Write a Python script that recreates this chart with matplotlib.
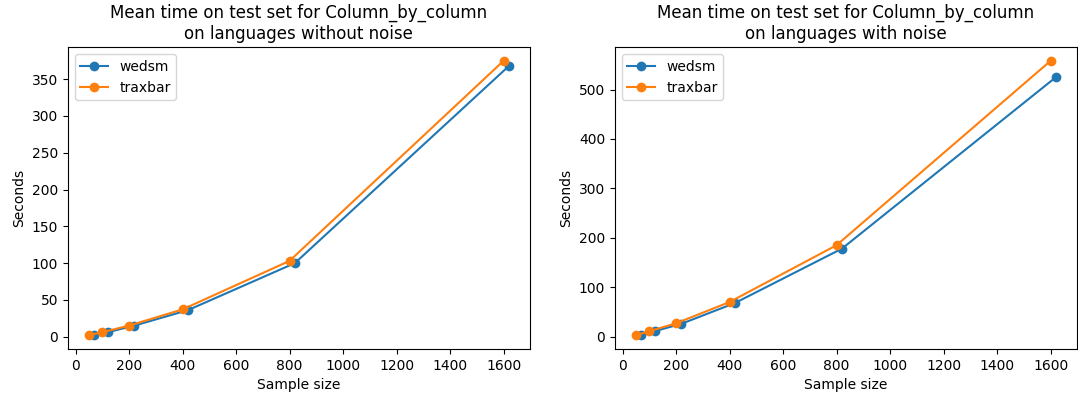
import matplotlib
matplotlib.use("Agg")
import matplotlib.pyplot as plt

# sample sizes
sizes_traxbar = [50, 100, 200, 400, 800, 1600]
sizes_wedsm = [70, 120, 220, 420, 820, 1620]

# mean times without noise (seconds)
wedsm_clean = [2, 6, 15, 36, 100, 368]
traxbar_clean = [2, 6, 15, 37, 103, 375]

# mean times with noise (seconds)
wedsm_noise = [3, 11, 26, 68, 178, 525]
traxbar_noise = [3, 11, 27, 70, 185, 558]

titles = [
    "Mean time on test set for Column_by_column\non languages without noise",
    "Mean time on test set for Column_by_column\non languages with noise",
]


def main():
    fig, axes = plt.subplots(1, 2, figsize=(10.78, 3.96), dpi=100)
    data = [(wedsm_clean, traxbar_clean), (wedsm_noise, traxbar_noise)]

    for ax, (w, t), title in zip(axes, data, titles):
        ax.plot(sizes_wedsm, w, marker="o", label="wedsm")
        ax.plot(sizes_traxbar, t, marker="o", label="traxbar")
        ax.set_title(title)
        ax.set_xlabel("Sample size")
        ax.set_ylabel("Seconds")
        ax.legend(loc="upper left")

    plt.subplots_adjust(left=0.063, right=0.999, top=0.881, bottom=0.119, wspace=0.184)
    plt.savefig("out.png", dpi=100)


if __name__ == "__main__":
    main()
